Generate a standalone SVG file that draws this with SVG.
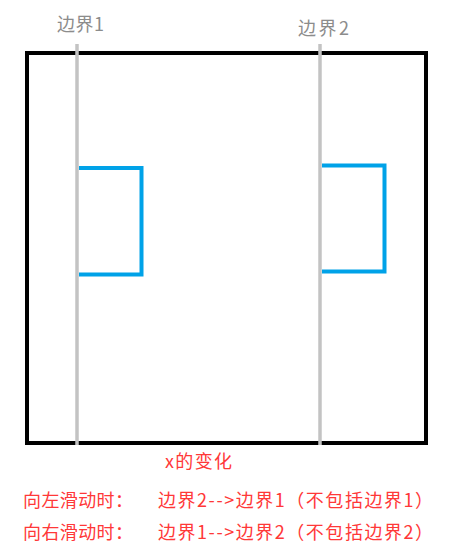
<svg xmlns="http://www.w3.org/2000/svg" width="453" height="560" viewBox="0 0 453 560">
<style>
.lbl{font-family:"Microsoft YaHei","Noto Sans CJK SC",sans-serif;font-size:18px}
.gray{fill:#8c8c8c}
.red{fill:#ff3838}
.guide{stroke:#c3c3c3;stroke-width:3.5;fill:none}
.box{stroke:#00a2e8;stroke-width:4;fill:none}
</style>
<rect width="453" height="560" fill="#ffffff"/>
<g id="frame"><rect x="27" y="53" width="399" height="390" fill="none" stroke="#000" stroke-width="4"/></g>
<g id="connectors">
<line class="guide" x1="77" y1="44" x2="77" y2="445"/>
<line class="guide" x1="320" y1="44" x2="320" y2="445"/>
</g>
<g id="box1"><path class="box" d="M79 168H141.5V274.5H79"/></g>
<g id="box2"><path class="box" d="M322 165.5H384.5V271.5H322"/></g>
<g id="boundary1"><text class="lbl gray" x="57" y="31" textLength="47">边界1</text></g>
<g id="boundary2"><text class="lbl gray" x="298" y="35" textLength="51">边界2</text></g>
<g id="caption">
<text class="lbl red" x="165" y="468" textLength="67">x的变化</text>
<text class="lbl red" x="23" y="507" textLength="110">向左滑动时：</text>
<text class="lbl red" x="158" y="507" textLength="275">边界2--&gt;边界1（不包括边界1）</text>
<text class="lbl red" x="23" y="539" textLength="110">向右滑动时：</text>
<text class="lbl red" x="158" y="539" textLength="275">边界1--&gt;边界2（不包括边界2）</text>
</g>
</svg>
